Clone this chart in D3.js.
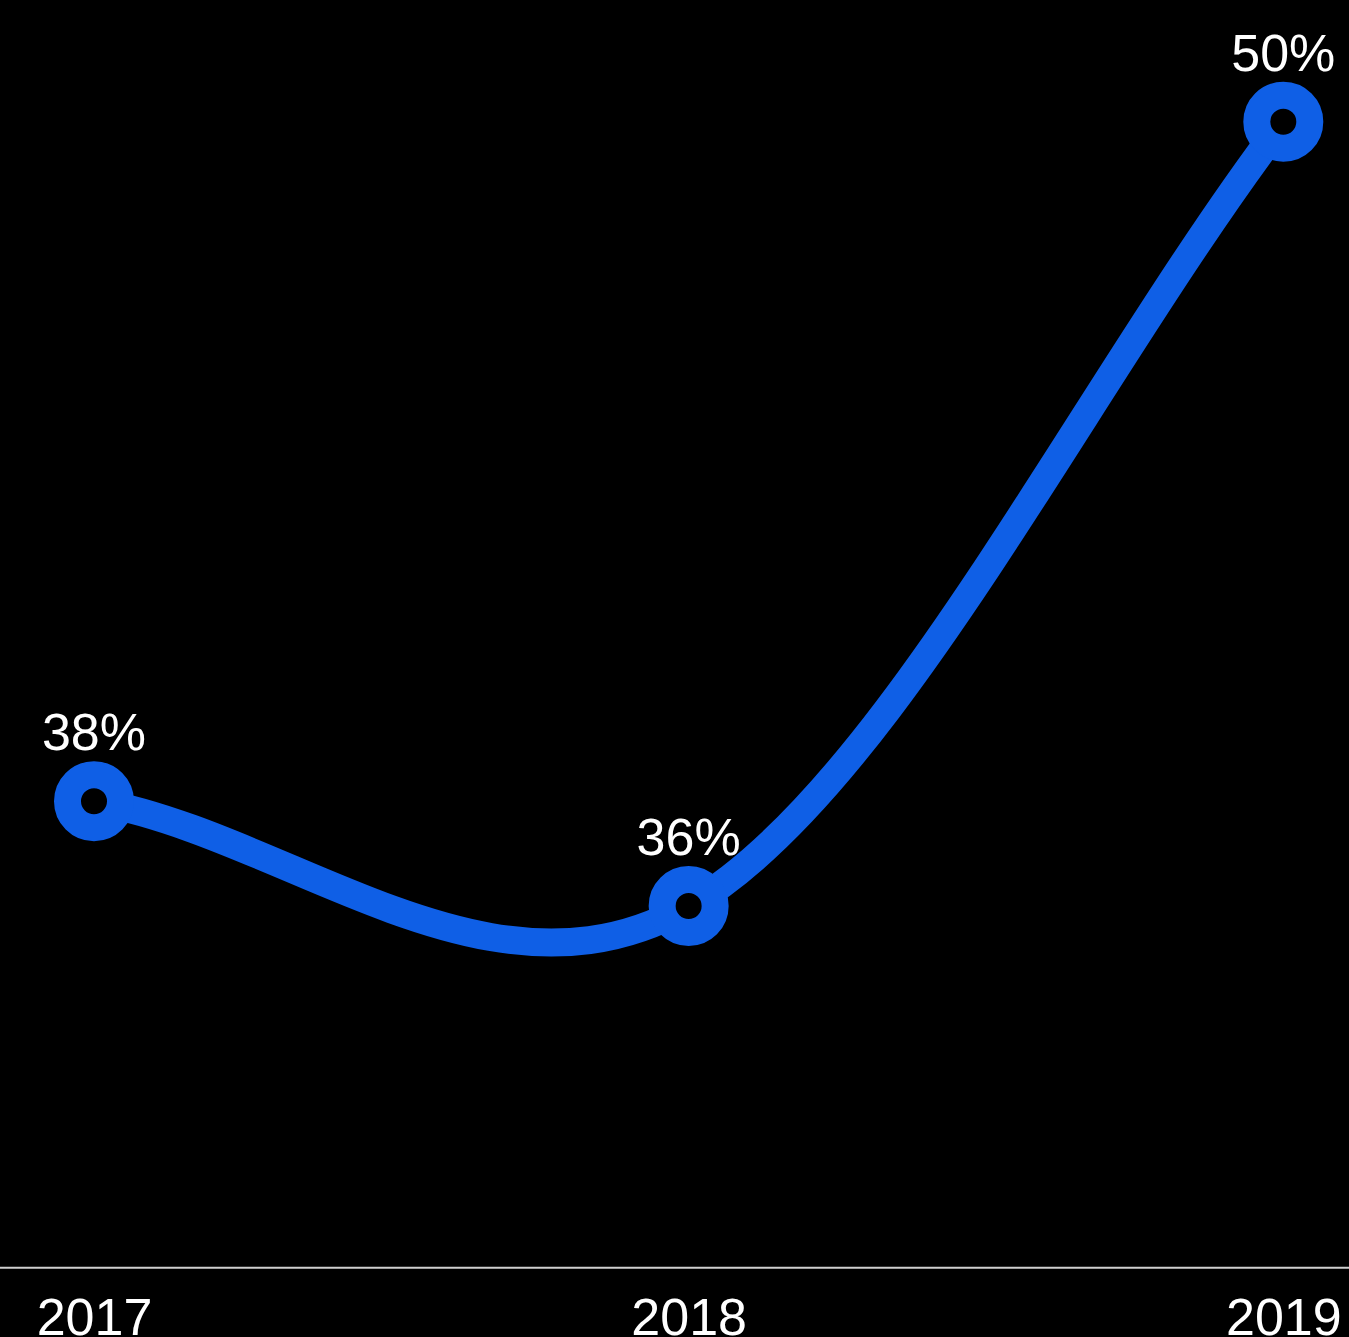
<!DOCTYPE html>
<html>
<head>
<meta charset="utf-8">
<script src="https://cdn.jsdelivr.net/npm/d3@7"></script>
<style>
  html, body { margin: 0; padding: 0; background: #000; }
  svg { display: block; }
  .lbl { font-family: "Liberation Sans", Arial, sans-serif; fill: #fff; }
</style>
</head>
<body>
<div id="chart"></div>
<script>
var years = ["2017", "2018", "2019"];
var values = [38, 36.15, 50];

var width = 1349, height = 1337;
var margin = {top: 8.5, left: 94, right: 65.7, baseline: 1267.7};

var x = d3.scalePoint()
  .domain(years)
  .range([margin.left, width - margin.right]);

var y = d3.scaleLinear()
  .domain([30, 52])
  .range([1254.3, margin.top]);

var data = years.map(function(d, i) { return {year: d, value: values[i]}; });

// cubic hermite: central tangents inside, secant tangents at the ends
function curveSpline(context) {
  return {
    areaStart: function() {},
    areaEnd: function() {},
    lineStart: function() { this._x = []; this._y = []; },
    point: function(px, py) { this._x.push(+px); this._y.push(+py); },
    lineEnd: function() {
      var xs = this._x, ys = this._y, n = xs.length;
      if (!n) return;
      context.moveTo(xs[0], ys[0]);
      if (n === 1) return;
      var tx = [], ty = [];
      for (var i = 0; i < n; i++) {
        var a = Math.max(i - 1, 0), b = Math.min(i + 1, n - 1);
        var f = (i === 0 || i === n - 1) ? 1 : 0.5;
        tx.push((xs[b] - xs[a]) * f);
        ty.push((ys[b] - ys[a]) * f);
      }
      for (var j = 0; j < n - 1; j++) {
        context.bezierCurveTo(
          xs[j] + tx[j] / 3, ys[j] + ty[j] / 3,
          xs[j + 1] - tx[j + 1] / 3, ys[j + 1] - ty[j + 1] / 3,
          xs[j + 1], ys[j + 1]);
      }
    }
  };
}

var svg = d3.select("#chart").append("svg")
  .attr("width", width)
  .attr("height", height);

// baseline
svg.append("line")
  .attr("x1", 0).attr("x2", width)
  .attr("y1", margin.baseline).attr("y2", margin.baseline)
  .attr("stroke", "#cfcfcf")
  .attr("stroke-width", 2);

var xAxis = d3.axisBottom(x).tickSize(0).tickPadding(0);
var gx = svg.append("g")
  .attr("transform", "translate(0," + margin.baseline + ")")
  .call(xAxis);
gx.select(".domain").remove();
gx.selectAll("text")
  .attr("class", "lbl")
  .attr("dy", null)
  .attr("y", 67)
  .style("font-size", "52px")
  .attr("fill", "#fff");

var line = d3.line()
  .x(function(d) { return x(d.year); })
  .y(function(d) { return y(d.value); })
  .curve(curveSpline);

svg.append("path")
  .datum(data)
  .attr("d", line)
  .attr("fill", "none")
  .attr("stroke", "#0F5FE6")
  .attr("stroke-width", 28)
  .attr("stroke-linecap", "round");

svg.selectAll(".dot")
  .data(data)
  .enter().append("circle")
  .attr("class", "dot")
  .attr("cx", function(d) { return x(d.year); })
  .attr("cy", function(d) { return y(d.value); })
  .attr("r", 26.5)
  .attr("fill", "#000")
  .attr("stroke", "#0F5FE6")
  .attr("stroke-width", 27);

svg.selectAll(".val")
  .data(data)
  .enter().append("text")
  .attr("class", "lbl val")
  .attr("x", function(d) { return x(d.year); })
  .attr("y", function(d) { return y(d.value) - 51; })
  .attr("text-anchor", "middle")
  .style("font-size", "52px")
  .text(function(d) { return d3.format(".0f")(d.value) + "%"; });
</script>
</body>
</html>
